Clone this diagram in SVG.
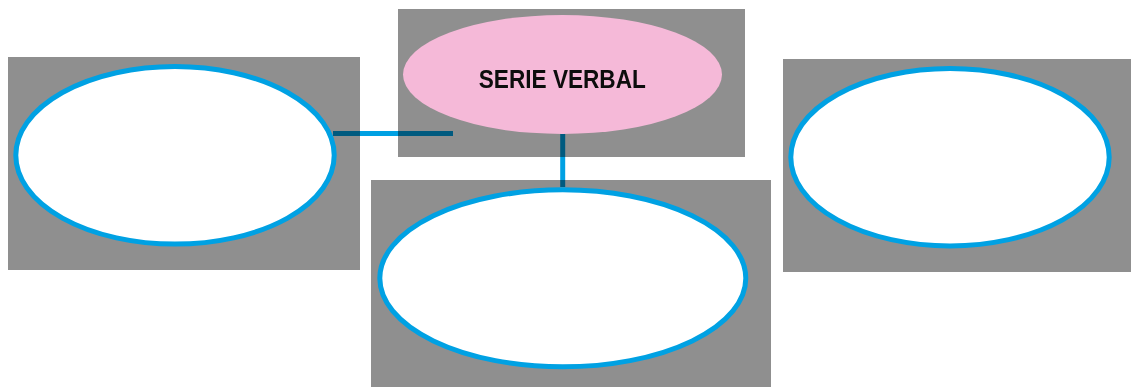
<svg xmlns="http://www.w3.org/2000/svg" width="1131" height="387" viewBox="0 0 1131 387">
  <style>
    .box { fill: #8f8f8f; }
    .oval { fill: #ffffff; stroke: #00a1e3; stroke-width: 5; }
    .pink { fill: #f5b9d8; }
    .conn { stroke: #00a1e3; stroke-width: 5; fill: none; mix-blend-mode: multiply; }
    .label { font-family: "Liberation Sans", Arial, sans-serif; font-weight: bold; font-size: 25px; fill: #0d0d0d; }
  </style>
  <rect width="1131" height="387" fill="#ffffff"/>
  <g id="node-left">
    <rect class="box" x="8" y="57" width="352" height="213"/>
    <ellipse class="oval" cx="175" cy="155.3" rx="159.2" ry="88.8"/>
  </g>
  <g id="node-top">
    <rect class="box" x="398" y="9" width="347" height="148"/>
    <ellipse class="pink" cx="562.5" cy="74.5" rx="159.5" ry="59.5"/>
    <text class="label" x="562.3" y="88.3" text-anchor="middle" textLength="167" lengthAdjust="spacingAndGlyphs">SERIE VERBAL</text>
  </g>
  <g id="node-bottom">
    <rect class="box" x="371" y="180" width="400" height="207"/>
    <ellipse class="oval" cx="562.8" cy="278.3" rx="183" ry="88.5"/>
  </g>
  <g id="node-right">
    <rect class="box" x="783" y="59" width="348" height="213"/>
    <ellipse class="oval" cx="950" cy="157.2" rx="159.2" ry="88.7"/>
  </g>
  <g id="connectors">
    <line class="conn" x1="333" y1="133.5" x2="453" y2="133.5"/>
    <line class="conn" x1="562.7" y1="134" x2="562.7" y2="187"/>
  </g>
</svg>
